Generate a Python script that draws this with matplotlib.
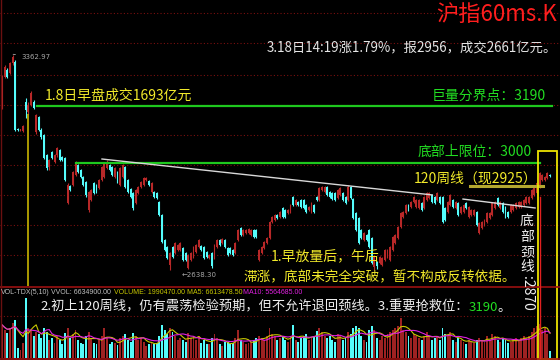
import numpy as np
import pandas as pd
import matplotlib
matplotlib.use("Agg")
import matplotlib.pyplot as plt
from matplotlib.patches import Rectangle
from matplotlib.lines import Line2D

plt.rcParams['font.family'] = ['Noto Sans CJK SC', 'DejaVu Sans']

# 60 minute bars, Shanghai composite
opens = [
    3187, 3289, 3312, 3302, 3336, 3339, 3113, 3110, 3107, 3204,
    3171, 3194, 3204, 3103, 3154, 3110, 3093, 3026, 2985, 3036,
    3002, 3026, 3043, 3019, 3016, 2864, 2921, 2925, 2958, 2992,
    2975, 2951, 2935, 2840, 2874, 2931, 2925, 2914, 2941, 2951,
    2982, 2992, 2985, 2951, 2968, 2925, 2951, 2985, 2941, 2911,
    2898, 2864, 2898, 2918, 2925, 2941, 2938, 2901, 2901, 2898,
    2867, 2823, 2739, 2716, 2655, 2716, 2695, 2706, 2706, 2712,
    2695, 2645, 2672, 2682, 2699, 2716, 2719, 2716, 2699, 2679,
    2695, 2679, 2716, 2739, 2729, 2739,
    2712, 2712, 2706, 2695, 2739, 2780, 2756, 2763, 2763, 2756,
    2773, 2773, 2672, 2695, 2712, 2729, 2746, 2800, 2807, 2823,
    2817, 2847, 2840, 2830, 2834, 2884, 2857, 2867, 2874, 2874,
    2857, 2840, 2834, 2857, 2884, 2874, 2908, 2901, 2918, 2901,
    2898, 2898, 2881, 2891, 2898, 2884, 2874, 2918, 2877, 2830,
    2813, 2773, 2739, 2756, 2773, 2746, 2648, 2665, 2662, 2655,
    2672, 2682, 2672, 2706, 2729, 2746, 2783, 2817, 2830, 2857,
    2850, 2867, 2850, 2847, 2864, 2847, 2874, 2881, 2891, 2884,
    2874, 2884, 2884, 2847, 2834, 2857, 2874, 2847, 2864, 2830,
    2834, 2864, 2817, 2823, 2823, 2834, 2763, 2780, 2790, 2800,
    2813, 2823, 2847, 2881, 2847, 2864, 2850, 2834, 2834, 2840,
    2847, 2850, 2850, 2857, 2864, 2864, 2881, 2891, 2898, 2918,
    2941, 2941, 2948, 2958,
]
highs = [
    3295, 3330, 3318, 3340, 3363, 3345, 3116, 3114, 3128, 3218,
    3204, 3240, 3210, 3165, 3158, 3115, 3096, 3030, 3012, 3040,
    3030, 3052, 3046, 3022, 3020, 2930, 2925, 2972, 3006, 2996,
    2978, 2955, 2938, 2905, 2912, 2935, 2928, 2945, 2989, 3003,
    3008, 2996, 2990, 2986, 2972, 2986, 2996, 2989, 2945, 2915,
    2901, 2912, 2922, 2939, 2952, 2952, 2942, 2935, 2905, 2902,
    2871, 2827, 2743, 2720, 2699, 2720, 2733, 2726, 2733, 2716,
    2699, 2693, 2699, 2720, 2726, 2743, 2723, 2720, 2703, 2693,
    2699, 2726, 2743, 2743, 2747, 2742,
    2716, 2716, 2710, 2733, 2777, 2784, 2777, 2777, 2780, 2777,
    2777, 2777, 2710, 2720, 2737, 2750, 2804, 2821, 2827, 2827,
    2838, 2851, 2844, 2844, 2861, 2888, 2878, 2871, 2878, 2878,
    2861, 2854, 2868, 2861, 2888, 2918, 2922, 2922, 2922, 2905,
    2902, 2902, 2912, 2918, 2902, 2888, 2924, 2922, 2881, 2834,
    2817, 2777, 2767, 2760, 2777, 2750, 2686, 2669, 2686, 2683,
    2710, 2710, 2720, 2753, 2760, 2787, 2834, 2838, 2861, 2861,
    2871, 2888, 2878, 2878, 2868, 2888, 2902, 2902, 2895, 2888,
    2902, 2888, 2888, 2851, 2871, 2895, 2878, 2871, 2868, 2854,
    2861, 2868, 2854, 2844, 2844, 2838, 2801, 2804, 2811, 2834,
    2834, 2868, 2871, 2885, 2871, 2868, 2854, 2838, 2861, 2861,
    2868, 2871, 2871, 2878, 2888, 2888, 2912, 2922, 2935, 2969,
    2962, 2955, 2969, 2962,
]
lows = [
    3180, 3285, 3285, 3298, 3330, 3105, 3108, 3107, 3103, 3150,
    3165, 3190, 3180, 3098, 3105, 3080, 3012, 2975, 2975, 3012,
    2998, 3020, 3005, 3005, 2938, 2860, 2904, 2920, 2955, 2964,
    2948, 2920, 2885, 2835, 2870, 2894, 2897, 2910, 2937, 2947,
    2978, 2971, 2954, 2947, 2930, 2920, 2947, 2914, 2896, 2880,
    2840, 2860, 2894, 2914, 2921, 2937, 2921, 2897, 2880, 2877,
    2819, 2729, 2702, 2675, 2638, 2678, 2691, 2702, 2702, 2668,
    2668, 2640, 2668, 2678, 2695, 2712, 2702, 2675, 2678, 2675,
    2645, 2675, 2712, 2718, 2725, 2712,
    2685, 2691, 2685, 2691, 2735, 2752, 2752, 2759, 2759, 2752,
    2745, 2745, 2668, 2691, 2708, 2725, 2742, 2796, 2803, 2809,
    2813, 2813, 2813, 2826, 2830, 2853, 2853, 2853, 2846, 2843,
    2830, 2836, 2830, 2830, 2870, 2870, 2904, 2897, 2887, 2880,
    2873, 2870, 2877, 2887, 2870, 2860, 2870, 2877, 2809, 2769,
    2725, 2742, 2735, 2735, 2712, 2658, 2638, 2641, 2658, 2651,
    2668, 2678, 2668, 2702, 2725, 2742, 2779, 2813, 2826, 2836,
    2846, 2863, 2846, 2843, 2836, 2843, 2870, 2877, 2863, 2860,
    2870, 2860, 2796, 2803, 2830, 2853, 2846, 2843, 2819, 2826,
    2830, 2843, 2813, 2819, 2819, 2786, 2759, 2776, 2786, 2796,
    2809, 2819, 2843, 2853, 2843, 2830, 2813, 2813, 2830, 2836,
    2843, 2846, 2846, 2853, 2860, 2860, 2877, 2887, 2894, 2914,
    2937, 2937, 2944, 2953,
]
closes = [
    3289, 3322, 3289, 3336, 3356, 3110, 3111, 3112, 3123, 3177,
    3194, 3235, 3184, 3160, 3110, 3086, 3016, 2982, 3009, 3016,
    3026, 3049, 3009, 3009, 2941, 2925, 2908, 2968, 3002, 2968,
    2951, 2925, 2891, 2901, 2908, 2898, 2901, 2941, 2985, 2999,
    3002, 2975, 2958, 2982, 2935, 2982, 2992, 2918, 2901, 2884,
    2847, 2908, 2918, 2935, 2948, 2948, 2925, 2931, 2884, 2881,
    2823, 2733, 2706, 2679, 2695, 2682, 2729, 2722, 2729, 2672,
    2672, 2689, 2695, 2716, 2722, 2739, 2706, 2679, 2682, 2689,
    2650, 2722, 2739, 2722, 2743, 2716,
    2689, 2695, 2689, 2729, 2773, 2756, 2773, 2773, 2776, 2773,
    2749, 2749, 2706, 2716, 2733, 2746, 2800, 2817, 2823, 2813,
    2834, 2817, 2817, 2840, 2857, 2857, 2874, 2857, 2850, 2847,
    2834, 2850, 2864, 2834, 2874, 2914, 2918, 2918, 2891, 2884,
    2877, 2874, 2908, 2914, 2874, 2864, 2918, 2881, 2813, 2773,
    2729, 2746, 2763, 2739, 2716, 2662, 2682, 2650, 2682, 2679,
    2706, 2706, 2716, 2749, 2756, 2783, 2830, 2834, 2857, 2840,
    2867, 2884, 2874, 2874, 2840, 2884, 2898, 2898, 2867, 2864,
    2898, 2864, 2800, 2807, 2867, 2891, 2850, 2867, 2823, 2850,
    2857, 2847, 2850, 2840, 2840, 2790, 2797, 2800, 2807, 2830,
    2830, 2864, 2867, 2857, 2867, 2834, 2817, 2817, 2857, 2857,
    2864, 2867, 2867, 2874, 2884, 2884, 2908, 2918, 2931, 2965,
    2958, 2951, 2965, 2954,
]
# volume, millions
volumes = [
    9.6, 8.1, 7.3, 8.7, 10.2, 11.0, 2.9, 2.3, 4.4, 17.4,
    8.7, 8.1, 6.4, 7.5, 7.0, 5.8, 8.7, 7.5, 5.2, 5.8,
    4.4, 6.4, 5.2, 4.1, 7.3, 8.7, 5.8, 7.0, 8.1, 5.2,
    4.4, 4.1, 6.4, 7.5, 5.8, 4.4, 4.1, 5.2, 6.4, 8.7,
    5.8, 4.1, 4.6, 4.4, 3.8, 5.8, 6.4, 7.0, 5.2, 4.6,
    7.3, 6.4, 5.2, 5.8, 4.6, 3.5, 4.1, 4.6, 4.1, 4.4,
    6.4, 9.6, 8.1, 7.0, 8.7, 7.5, 6.4, 5.2, 5.8, 5.2,
    4.6, 7.3, 5.8, 6.4, 5.2, 6.4, 4.4, 5.2, 4.1, 4.1,
    5.8, 7.0, 5.8, 4.1, 3.5, 4.6,
    4.6, 4.1, 4.4, 5.8, 8.1, 5.2, 4.6, 4.1, 4.4, 4.6,
    5.2, 5.8, 6.4, 5.8, 5.2, 6.4, 8.7, 7.0, 6.4, 5.2,
    5.8, 6.4, 5.2, 4.6, 6.4, 9.6, 5.2, 4.6, 5.8, 6.4,
    7.0, 5.2, 5.8, 6.4, 7.8, 8.7, 7.5, 6.4, 5.8, 6.4,
    5.2, 4.6, 7.0, 6.4, 5.2, 5.8, 7.5, 7.0, 8.7, 9.3,
    8.7, 6.4, 5.2, 4.6, 8.1, 9.3, 8.1, 5.8, 5.2, 6.4,
    5.8, 7.0, 7.5, 8.1, 8.7, 9.3, 11.6, 8.1, 7.5, 6.4,
    5.8, 7.0, 6.4, 5.8, 5.2, 6.4, 7.5, 6.4, 5.2, 5.8,
    6.4, 5.2, 8.7, 7.0, 6.4, 7.5, 5.2, 4.6, 5.8, 5.2,
    4.6, 4.1, 5.2, 4.6, 4.4, 5.2, 5.8, 5.2, 4.6, 6.4,
    5.2, 7.0, 6.4, 5.2, 4.6, 5.8, 5.2, 4.4, 4.6, 5.2,
    5.8, 5.2, 5.8, 6.4, 5.8, 6.4, 7.5, 8.7, 9.3, 9.9,
    8.1, 8.7, 7.0, 2.0,
]

# hand-drawn levels and trend lines (bar index, price)
big_volume_level = 3190
bottom_cap_level = 3000
week120_level = 2920
level_3190_span = [13.3, 209.8]
level_3000_span = [28.2, 205.2]
week120_span = [178.5, 206.3]
neck_a_x, neck_a_y = [38.1, 164.0], [3012, 2891]
neck_b_x, neck_b_y = [175.8, 203.3], [2877, 2847]
jan8_bar = 9
peak_bar, peak_price = 4, 3362.97
low_bar, low_price = 64, 2638.30
grid_levels = [3504, 3403, 3295, 3194, 3093, 2992, 2891, 2790, 2689]

RED = '#b82828'
CYAN = '#54fcfc'
YEL = '#f2ea2a'
GRN = '#22dd22'
GRID = '#7a1010'

W, H = 560, 360
def fx(px):
    return px / W
def fy(py):
    return 1 - py / H

fig = plt.figure(figsize=(5.6, 3.6), dpi=100, facecolor='black')
ax = fig.add_axes([0, fy(286), 1, 286 / H])
vax = fig.add_axes([0, fy(358), 1, 70 / H])
n = len(closes)
x = np.arange(n)
for a in (ax, vax):
    a.set_axis_off()
    a.set_xlim(-0.8, 212.8)
ax.set_ylim(2584, 3548)
vax.set_ylim(0, 20.3)

for g in grid_levels:
    ax.axhline(g, color=GRID, lw=0.8, ls=(0, (1, 2)), zorder=0)
vax.axhline(12.2, color=GRID, lw=0.8, ls=(0, (1, 2)), zorder=0)

o = np.array(opens, float)
hi = np.array(highs, float)
lo = np.array(lows, float)
c = np.array(closes, float)
up = c >= o
cols = np.where(up, RED, CYAN)
ax.vlines(x, lo, hi, colors=cols, lw=0.8, zorder=2)
ax.bar(x, np.maximum(np.abs(c - o), 2.5), bottom=np.minimum(o, c),
       width=0.72, color=cols, lw=0, zorder=3)

vol = pd.Series(volumes)
vcols = np.where(up, '#9e2222', CYAN)
vax.bar(x, vol, width=0.72, color=vcols, lw=0, zorder=2)
vax.plot(x, vol.rolling(5, min_periods=1).mean(), color='#c8c800', lw=0.8, zorder=3)
vax.plot(x, vol.rolling(10, min_periods=1).mean(), color='#e020e0', lw=0.8, zorder=3)

# levels and lines
ax.plot(level_3190_span, [big_volume_level] * 2, color='#1ec81e', lw=1.6, zorder=4)
ax.plot(level_3000_span, [bottom_cap_level] * 2, color='#1ec81e', lw=1.6, zorder=4)
ax.plot(week120_span, [week120_level] * 2, color='#b4a830', lw=2.2, zorder=4)
ax.plot(neck_a_x, neck_a_y, color='#d8d8d8', lw=1.0, zorder=4)
ax.plot(neck_b_x, neck_b_y, color='#d8d8d8', lw=1.0, zorder=4)
ax.vlines(jan8_bar + 0.9, 2584, 3165, color='#c8b400', lw=1.2, zorder=4)

ax.annotate('3362.97', xy=(peak_bar + 0.2, peak_price + 2), xytext=(7.2, 3356),
            fontsize=5, color='#a8a8a8', va='center', family=['DejaVu Sans'],
            arrowprops=dict(arrowstyle='-', color='#a8a8a8', lw=0.6))
ax.text(low_bar + 4.3, low_price - 17, '\u2190' + f'{low_price:.2f}', fontsize=5,
        color='#a8a8a8', va='center', family=['DejaVu Sans'])

# frame lines
for yy in (287, 358.5):
    fig.add_artist(Line2D([0, 1], [fy(yy)] * 2, color='#9a1010', lw=1.2,
                          transform=fig.transFigure))
fig.add_artist(Line2D([fx(1)] * 2, [0, 1], color='#6a1010', lw=1.0,
                      transform=fig.transFigure))
fig.add_artist(Line2D([fx(539.5)] * 2, [fy(197), fy(358)], color='#e02020', lw=1.0,
                      transform=fig.transFigure))
fig.add_artist(Rectangle((fx(538), fy(359)), 19 / W, 208 / H, fill=False,
                         edgecolor='#ece400', lw=1.3, transform=fig.transFigure))

# texts
fig.text(fx(557), fy(3), '沪指60ms.K', ha='right', va='top', fontsize=16, color='#ff1e1e')
fig.text(fx(557), fy(47), '3.18日14:19涨1.79%，报2956，成交2661亿元。', ha='right',
         va='center', fontsize=9.6, color='#e6e6e6')
fig.text(fx(45), fy(96), '1.8日早盘成交1693亿元', va='center', fontsize=10, color=YEL)
fig.text(fx(432), fy(96), '巨量分界点：3190', va='center', fontsize=10, color=GRN)
fig.text(fx(418), fy(152), '底部上限位：3000', va='center', fontsize=10, color=GRN)
fig.text(fx(414), fy(179), '120周线（现2925）', va='center', fontsize=10, color=YEL)
fig.text(fx(271), fy(257), '1.早放量后，午后', va='center', fontsize=10, color=YEL)
fig.text(fx(243), fy(277), '滞涨，底部未完全突破，暂不构成反转依据。', va='center',
         fontsize=9.8, color=YEL)

for ch, yy in zip('底部颈线', (221, 237, 252, 267)):
    fig.text(fx(527), fy(yy), ch, ha='center', va='center', fontsize=10, color='#f0f0f0')
fig.text(fx(527), fy(276), ':2870', ha='center', va='top', rotation=-90,
         fontsize=10, color='#f0f0f0')

renderer = fig.canvas.get_renderer()
xpos = fx(40)
for part, col in (('2.初上120周线，仍有震荡检验预期，但不允许退回颈线。3.重要抢救位：', '#f0f0f0'),
                  ('3190', GRN), ('。', '#f0f0f0')):
    t = fig.text(xpos, fy(311), part, va='baseline', fontsize=9.5, color=col)
    xpos = t.get_window_extent(renderer).x1 / W

hdr = [(1, 'VOL-TDX(5,10)', '#c0c0c0'), (51, 'VVOL: 6634900.00', '#c0c0c0'),
       (114, 'VOLUME: 1990470.00', '#c8c800'), (187, 'MA5: 6613478.50', '#c8c800'),
       (243, 'MA10: 5564685.00', '#e020e0')]
for px, s, col in hdr:
    fig.text(fx(px), fy(293), s, va='center', fontsize=5.0, color=col,
             family=['Liberation Sans', 'DejaVu Sans'])

fig.savefig('out.png', dpi=100, facecolor='black')
